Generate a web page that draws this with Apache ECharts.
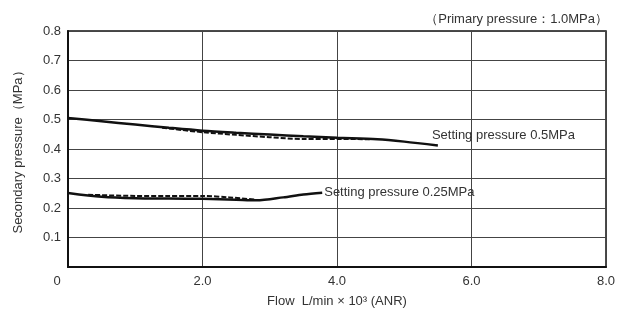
<!DOCTYPE html>
<html>
<head>
<meta charset="utf-8">
<script src="https://cdn.jsdelivr.net/npm/echarts@6/dist/echarts.min.js"></script>
<style>
  html, body { margin: 0; padding: 0; background: #fff; }
  #chart { width: 619px; height: 320px; }
</style>
</head>
<body>
<div id="chart"></div>
<script>
// flow (L/min x 10^3) vs secondary pressure (MPa)
var set05Solid = [[0, 0.505], [0.5, 0.494], [1.0, 0.483], [1.5, 0.472], [2.0, 0.462], [2.5, 0.455], [3.0, 0.449], [3.5, 0.443], [4.0, 0.438], [4.6, 0.433], [5.0, 0.425], [5.5, 0.412]];
var set05Dash = [[1.4, 0.472], [2.0, 0.457], [2.5, 0.448], [3.0, 0.440], [3.5, 0.434], [4.0, 0.434], [4.5, 0.433]];
var set025Solid = [[0, 0.251], [0.5, 0.238], [1.0, 0.233], [1.5, 0.232], [2.0, 0.231], [2.5, 0.228], [2.8, 0.226], [3.2, 0.236], [3.5, 0.246], [3.78, 0.252]];
var set025Dash = [[0.3, 0.245], [1.0, 0.241], [1.5, 0.241], [2.0, 0.241], [2.4, 0.236], [2.8, 0.228]];
var xTicks = [0, 2, 4, 6, 8];
var yTicks = [0.1, 0.2, 0.3, 0.4, 0.5, 0.6, 0.7, 0.8];
var labels = ['Setting pressure 0.5MPa', 'Setting pressure 0.25MPa'];

var font = 'Liberation Sans, Arial, sans-serif';
var myChart = echarts.init(document.getElementById('chart'), null, {renderer: 'canvas'});
myChart.setOption({
    animation: false,
    textStyle: {fontFamily: font},
    title: {
        text: '（Primary pressure：1.0MPa）',
        right: 6,
        top: 8,
        textStyle: {fontSize: 13, fontWeight: 'normal', color: '#333', fontFamily: font}
    },
    grid: {
        left: 68, right: 13, top: 31, bottom: 53,
        show: true, borderColor: '#111', borderWidth: 1.5
    },
    xAxis: {
        type: 'value',
        min: 0, max: 8, interval: 2,
        name: 'Flow  L/min × 10³ (ANR)',
        nameLocation: 'middle',
        nameGap: 28,
        nameTextStyle: {fontSize: 13, color: '#333'},
        axisLine: {show: true, lineStyle: {color: '#111', width: 2}},
        axisTick: {show: false},
        splitLine: {show: true, lineStyle: {color: '#444', width: 1}},
        axisLabel: {
            fontSize: 13, color: '#333', margin: 8,
            formatter: function (v) {
                return v === 0 ? '{z|0}' : v.toFixed(1);
            },
            rich: {z: {fontSize: 13, color: '#333', padding: [0, 22, 0, 0]}}
        }
    },
    yAxis: {
        type: 'value',
        min: 0, max: 0.8, interval: 0.1,
        name: 'Secondary pressure（MPa）',
        nameLocation: 'middle',
        nameGap: 43,
        nameRotate: 90,
        nameTextStyle: {fontSize: 13, color: '#333'},
        axisLine: {show: true, lineStyle: {color: '#111', width: 2}},
        axisTick: {show: false},
        splitLine: {show: true, lineStyle: {color: '#444', width: 1}},
        axisLabel: {
            fontSize: 13, color: '#333', margin: 7,
            showMinLabel: false,
            formatter: function (v) { return yTicks.indexOf(+v.toFixed(1)) >= 0 ? v.toFixed(1) : ''; }
        }
    },
    series: [
        {
            type: 'line', data: set05Dash, symbol: 'none', smooth: 0.3,
            lineStyle: {color: '#111', width: 2, type: [5, 2]}, z: 3
        },
        {
            type: 'line', data: set05Solid, symbol: 'none', smooth: 0.3,
            lineStyle: {color: '#111', width: 2.5}, z: 4,
            endLabel: {show: true, formatter: labels[0], fontSize: 13, color: '#333', offset: [-14, -10]}
        },
        {
            type: 'line', data: set025Dash, symbol: 'none', smooth: 0.3,
            lineStyle: {color: '#111', width: 2, type: [5, 2]}, z: 3
        },
        {
            type: 'line', data: set025Solid, symbol: 'none', smooth: 0.3,
            lineStyle: {color: '#111', width: 2.5}, z: 4,
            endLabel: {show: true, formatter: labels[1], fontSize: 13, color: '#333', offset: [-6, 0]}
        }
    ]
});
</script>
</body>
</html>
